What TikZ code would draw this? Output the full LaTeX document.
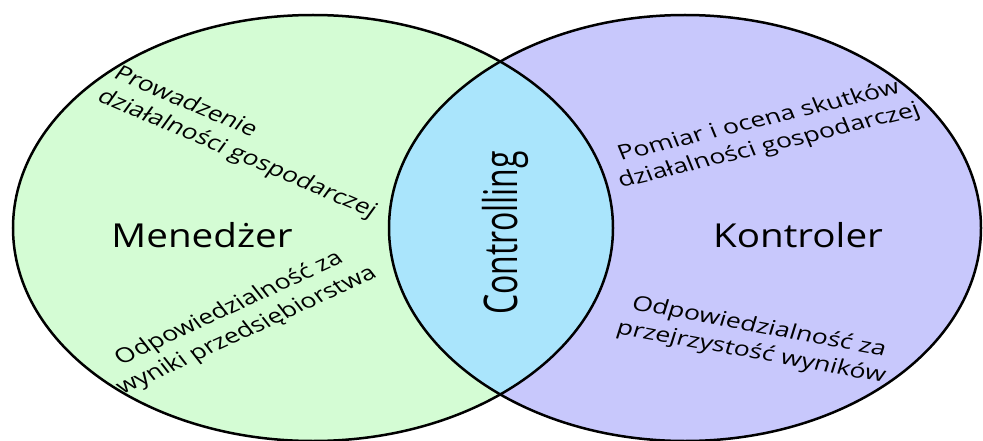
\documentclass[tikz,border=0pt]{standalone}
\usepackage{fontspec}
\setmainfont{Open Sans}
\definecolor{mgrgreen}{RGB}{212,252,212}
\definecolor{ktrblue}{RGB}{200,200,252}
\definecolor{ctrlcyan}{RGB}{170,229,252}
\tikzset{
  dutytext/.style={font=\fontsize{20.5}{26}\selectfont, xscale=1.3},
  roletext/.style={font=\fontsize{33}{38}\selectfont, xscale=1.17},
}
\begin{document}
\begin{tikzpicture}[x=1pt,y=1pt]
\useasboundingbox (0,0) rectangle (983,440);
% the two sets
\fill[mgrgreen] (313,212) ellipse [x radius=300, y radius=213];
\fill[ktrblue] (685,212) ellipse [x radius=296, y radius=213];
\begin{scope}
  \clip (313,212) ellipse [x radius=300, y radius=213];
  \fill[ctrlcyan] (685,212) ellipse [x radius=296, y radius=213];
\end{scope}
\draw[line width=2.5pt] (313,212) ellipse [x radius=300, y radius=213];
\draw[line width=2.5pt] (685,212) ellipse [x radius=296, y radius=213];
% names
\node[roletext] (menedzer) at (202,205) {Menedżer};
\node[roletext] (kontroler) at (798,205) {Kontroler};
\node[font=\fontsize{32}{36}\selectfont, xscale=1.45, rotate=90] (controlling) at (505,207) {Controlling};
% duties
\node[dutytext, align=left, rotate=-29] (prowadzenie) at (245,297) {Prowadzenie\\działalności gospodarczej};
\node[dutytext, align=center, rotate=31] (wyniki) at (238,120) {Odpowiedzialność za\\wyniki przedsiębiorstwa};
\node[dutytext, align=center, rotate=17.5] (pomiar) at (764,306) {Pomiar i ocena skutków\\działalności gospodarczej};
\node[dutytext, align=center, rotate=-13.5] (przejrzystosc) at (755,100) {Odpowiedzialność za\\przejrzystość wyników};
\end{tikzpicture}
\end{document}
